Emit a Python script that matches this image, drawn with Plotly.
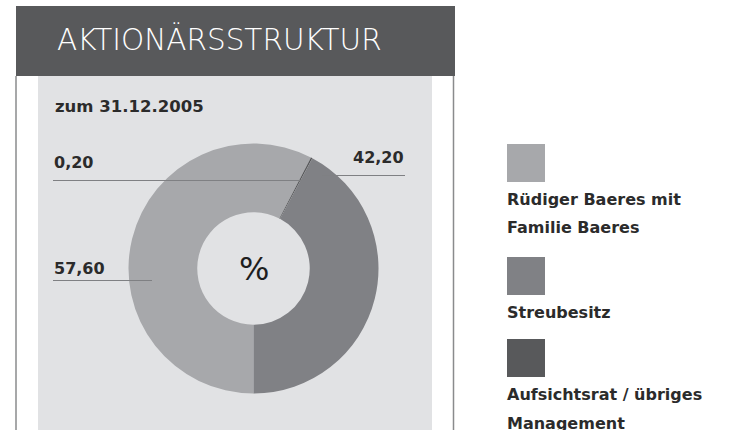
import plotly.graph_objects as go

# ---- data ----
categories = ["Rüdiger Baeres mit<br>Familie Baeres", "Aufsichtsrat / übriges<br>Management", "Streubesitz"]
values = [57.60, 0.20, 42.20]
value_labels = ["57,60", "0,20", "42,20"]
colors = ["#a7a8ab", "#58595b", "#808185"]
legend_order = [0, 2, 1]  # Rüdiger, Streubesitz, Aufsichtsrat
title_text = "AKTIONÄRSSTRUKTUR"
subtitle_text = "zum 31.12.2005"

W, H = 741, 430
FONT = "DejaVu Sans"
LIGHT = "DejaVu Sans ExtraLight, DejaVu Sans"

def px(x):
    return x / W

def py(y):
    return 1 - y / H

fig = go.Figure()

# donut
cx, cy, r = 253.5, 268.5, 125
fig.add_trace(go.Pie(
    values=values,
    labels=categories,
    marker=dict(colors=colors, line=dict(width=0)),
    hole=0.45,
    sort=False,
    direction="clockwise",
    rotation=180,
    textinfo="none",
    hoverinfo="label+value",
    showlegend=False,
    domain=dict(x=[px(cx - r), px(cx + r)], y=[py(cy + r), py(cy - r)]),
))

shapes = []
# header band
shapes.append(dict(type="rect", xref="paper", yref="paper", x0=px(16), x1=px(455), y0=py(76), y1=py(6),
                   fillcolor="#58595b", line=dict(width=0), layer="below"))
# panel
shapes.append(dict(type="rect", xref="paper", yref="paper", x0=px(38), x1=px(432), y0=py(430), y1=py(76),
                   fillcolor="#e1e2e4", line=dict(width=0), layer="below"))
# vertical border lines
for xv in (16, 453.5):
    shapes.append(dict(type="line", xref="paper", yref="paper", x0=px(xv), x1=px(xv), y0=py(430), y1=py(76),
                       line=dict(color="#8a8b8d", width=1.5)))
# leader lines for value labels
leaders = [(53, 152, 280.5), (53, 302, 180.5), (322, 405, 175.5)]
for x0, x1, yv in leaders:
    shapes.append(dict(type="line", xref="paper", yref="paper", x0=px(x0), x1=px(x1), y0=py(yv), y1=py(yv),
                       line=dict(color="#7f8083", width=1)))

annotations = []
annotations.append(dict(x=px(55), y=py(39), xref="paper", yref="paper", text=title_text, showarrow=False,
                        xanchor="left", yanchor="middle",
                        font=dict(family=LIGHT, size=29.5, color="#ffffff", weight=200)))
annotations.append(dict(x=px(53), y=py(106), xref="paper", yref="paper", text=subtitle_text, showarrow=False,
                        xanchor="left", yanchor="middle",
                        font=dict(family=FONT, size=16.5, color="#2b2b2b", weight="bold")))
annotations.append(dict(x=px(cx), y=py(269), xref="paper", yref="paper", text="%", showarrow=False,
                        xanchor="center", yanchor="middle",
                        font=dict(family=FONT, size=32, color="#1e1e1e")))

# value labels
label_pos = [(52, 268, "left"), (52, 162, "left"), (406, 157, "right")]
for (lx, ly, anc), txt in zip(label_pos, value_labels):
    annotations.append(dict(x=px(lx), y=py(ly), xref="paper", yref="paper", text=txt, showarrow=False,
                            xanchor=anc, yanchor="middle",
                            font=dict(family=FONT, size=16, color="#2b2b2b", weight="bold")))

# legend drawn manually (square above text, generous line spacing)
legend_sq_top = [144, 257, 339]
line_gap = 29
for i, top in zip(legend_order, legend_sq_top):
    shapes.append(dict(type="rect", xref="paper", yref="paper", x0=px(507), x1=px(545), y0=py(top + 38), y1=py(top),
                       fillcolor=colors[i], line=dict(width=0)))
    for k, line in enumerate(categories[i].split("<br>")):
        annotations.append(dict(x=px(505), y=py(top + 55 + k * line_gap), xref="paper", yref="paper", text=line,
                                showarrow=False, xanchor="left", yanchor="middle", align="left",
                                font=dict(family=FONT, size=16, color="#2b2b2b", weight="bold")))

fig.update_layout(
    width=W, height=H,
    margin=dict(l=0, r=0, t=0, b=0),
    paper_bgcolor="#ffffff",
    plot_bgcolor="#ffffff",
    shapes=shapes,
    annotations=annotations,
)

fig.write_html("out.html", config={"displayModeBar": False},
               post_script="document.body.style.margin='0px';document.body.style.overflow='hidden';")
